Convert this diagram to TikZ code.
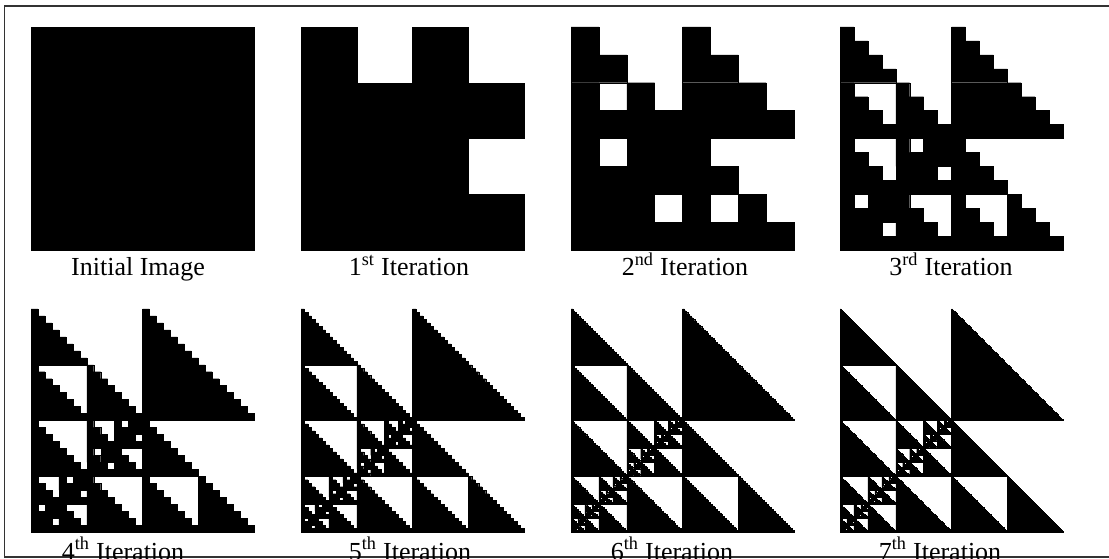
\documentclass[tikz,border=0pt]{standalone}
\usepackage{fontspec}
\setmainfont{Liberation Serif}

\tikzset{ink/.style={fill=black, draw=black, line width=0.25pt, line join=miter}}

% lower-left staircase of the unit cell, #1 steps
\newcommand{\stairs}[1]{%
  \pgfmathsetmacro{\hh}{1/#1}%
  \path[ink] (0,0) \foreach \m in {1,...,#1}{ -- ++(\hh,0) -- ++(0,\hh)} -- (0,1) -- cycle;%
}

% diagonal cell: stairs / cell / cell / stairs
\newcommand{\xcell}[1]{%
  \ifnum#1<2
    \path[ink] (0,0) rectangle (1,1);%
  \else
    \pgfmathtruncatemacro{\kk}{2^(#1-2)}%
    \pgfmathtruncatemacro{\nn}{#1-1}%
    \begin{scope}[scale=0.5]\stairs{\kk}\end{scope}%
    \begin{scope}[shift={(0.5,0.5)},scale=0.5]\stairs{\kk}\end{scope}%
    \begin{scope}[shift={(0.5,0)},scale=0.5]\xcell{\nn}\end{scope}%
    \begin{scope}[shift={(0,0.5)},scale=0.5]\xcell{\nn}\end{scope}%
  \fi
}

% one image after #1 iterations, on a 4x4 grid
\newcommand{\fractal}[1]{%
  \ifnum#1<1
    \path[ink] (0,0) rectangle (4,4);%
  \else
    \pgfmathtruncatemacro{\tk}{2^(#1-1)}%
    \foreach \c/\r in {0/0,2/0,0/1,1/1,3/1,0/2,2/2,1/3,2/3,3/3}{%
      \begin{scope}[shift={(\c,\r)}]\stairs{\tk}\end{scope}}%
    \path[ink] (2,1) rectangle (3,2);%
    \foreach \c/\r in {1/2,0/3}{%
      \begin{scope}[shift={(\c,\r)}]\xcell{#1}\end{scope}}%
  \fi
}

\begin{document}
\begin{tikzpicture}[x=0.75pt, y=-0.75pt,
    lbl/.style={anchor=base, inner sep=0pt, font=\fontsize{19.5}{22}\selectfont},
    frame/.style={draw=black!80, line width=1.4pt}]
\useasboundingbox (0,0) rectangle (1109,559);
\clip (0,0) rectangle (1109,559);
\draw[frame] (4.5,6) rectangle (1120,557);

% images
\foreach \n/\x/\y in {0/31/27, 1/301/27, 2/571/27, 3/840/27,
                      4/31/309, 5/301/309, 6/571/309, 7/840/309}{
  \begin{scope}[shift={(\x,\y)}, scale=223/4]
    \fractal{\n}
  \end{scope}
}

% captions
\node[lbl] (cap0) at (138,276) {Initial Image};
\node[lbl] (cap1) at (409,276) {1\textsuperscript{st} Iteration};
\node[lbl] (cap2) at (685,276) {2\textsuperscript{nd} Iteration};
\node[lbl] (cap3) at (951,276) {3\textsuperscript{rd} Iteration};
\node[lbl] (cap4) at (123,560) {4\textsuperscript{th} Iteration};
\node[lbl] (cap5) at (410,560) {5\textsuperscript{th} Iteration};
\node[lbl] (cap6) at (672,560) {6\textsuperscript{th} Iteration};
\node[lbl] (cap7) at (940,560) {7\textsuperscript{th} Iteration};
\end{tikzpicture}
\end{document}
